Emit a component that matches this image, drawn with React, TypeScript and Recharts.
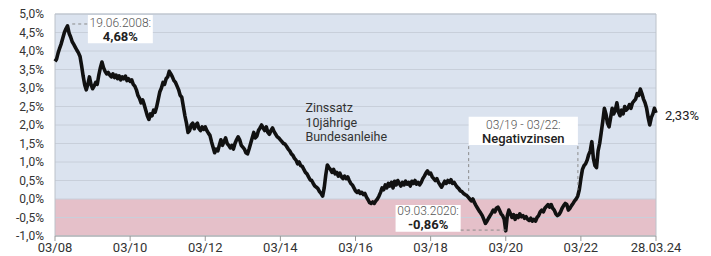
import React from 'react';
import {
	LineChart,
	Line,
	XAxis,
	YAxis,
	CartesianGrid,
	ReferenceArea,
	ReferenceLine,
	ReferenceDot,
} from 'recharts';

const FONT = 'Roboto, "Liberation Sans", sans-serif';

// 10y Bund yield in %, two readings per month, from 03/2008 to 28.03.2024
const y2008 = [3.72, 3.78, 3.95, 4.08, 4.2, 4.35, 4.5, 4.6, 4.68, 4.48, 4.38, 4.25, 4.18, 4.1, 4.02, 3.95, 3.85, 3.6, 3.32, 3.08];
const y2009 = [2.95, 3.1, 3.3, 3.1, 2.98, 3.05, 3.15, 3.1, 3.35, 3.55, 3.7, 3.55, 3.45, 3.38, 3.42, 3.35, 3.3, 3.38, 3.28, 3.35, 3.25, 3.33, 3.22, 3.3];
const y2010 = [3.25, 3.32, 3.2, 3.25, 3.18, 3.22, 3.1, 3.05, 2.95, 2.8, 2.72, 2.6, 2.68, 2.55, 2.4, 2.25, 2.15, 2.3, 2.25, 2.4, 2.35, 2.5, 2.7, 2.9];
const y2011 = [3.0, 3.15, 3.1, 3.25, 3.3, 3.45, 3.38, 3.3, 3.2, 3.15, 3.05, 2.95, 2.8, 2.75, 2.5, 2.25, 2.05, 1.8, 1.85, 2.0, 2.05, 1.9, 2.0, 2.05];
const y2012 = [1.9, 1.85, 1.95, 1.88, 1.95, 1.85, 1.78, 1.72, 1.55, 1.4, 1.25, 1.35, 1.3, 1.45, 1.6, 1.45, 1.55, 1.65, 1.5, 1.45, 1.38, 1.45, 1.35, 1.5];
const y2013 = [1.6, 1.68, 1.6, 1.45, 1.4, 1.35, 1.25, 1.22, 1.35, 1.5, 1.65, 1.8, 1.65, 1.7, 1.85, 1.92, 2.0, 1.92, 1.85, 1.95, 1.8, 1.75, 1.85, 1.92];
const y2014 = [1.82, 1.75, 1.68, 1.65, 1.6, 1.55, 1.5, 1.48, 1.42, 1.35, 1.3, 1.22, 1.18, 1.1, 1.05, 0.95, 1.0, 0.9, 0.88, 0.8, 0.72, 0.68, 0.6, 0.52];
const y2015 = [0.5, 0.42, 0.35, 0.32, 0.28, 0.2, 0.15, 0.08, 0.3, 0.65, 0.92, 0.85, 0.8, 0.72, 0.8, 0.68, 0.72, 0.62, 0.7, 0.6, 0.55, 0.62, 0.55, 0.6];
const y2016 = [0.5, 0.42, 0.38, 0.3, 0.22, 0.18, 0.22, 0.15, 0.18, 0.12, 0.15, 0.05, -0.02, -0.1, -0.12, -0.08, -0.12, -0.05, 0.0, 0.08, 0.18, 0.3, 0.25, 0.38];
const y2017 = [0.3, 0.42, 0.35, 0.45, 0.3, 0.48, 0.38, 0.5, 0.42, 0.35, 0.45, 0.38, 0.48, 0.4, 0.45, 0.35, 0.48, 0.42, 0.5, 0.4, 0.45, 0.38, 0.45, 0.55];
const y2018 = [0.62, 0.7, 0.76, 0.68, 0.7, 0.6, 0.55, 0.5, 0.55, 0.45, 0.38, 0.32, 0.4, 0.48, 0.42, 0.5, 0.45, 0.52, 0.42, 0.45, 0.38, 0.32, 0.28, 0.22];
const y2019 = [0.2, 0.15, 0.12, 0.1, 0.05, 0.0, -0.05, 0.0, -0.1, -0.18, -0.25, -0.32, -0.38, -0.45, -0.55, -0.66, -0.6, -0.52, -0.45, -0.38, -0.3, -0.35, -0.25, -0.22];
const y2020 = [-0.3, -0.4, -0.45, -0.55, -0.86, -0.45, -0.3, -0.4, -0.5, -0.42, -0.55, -0.45, -0.5, -0.4, -0.48, -0.45, -0.52, -0.48, -0.55, -0.58, -0.52, -0.6, -0.55, -0.6];
const y2021 = [-0.5, -0.45, -0.35, -0.3, -0.35, -0.25, -0.2, -0.15, -0.22, -0.15, -0.25, -0.3, -0.4, -0.45, -0.42, -0.35, -0.25, -0.18, -0.12, -0.15, -0.3, -0.25, -0.18, -0.12];
const y2022 = [-0.05, 0.0, 0.08, 0.25, 0.55, 0.8, 0.9, 0.95, 1.05, 1.2, 1.3, 1.55, 1.1, 0.9, 0.85, 1.3, 1.5, 1.8, 2.1, 2.45, 2.3, 2.05, 1.95, 2.2];
const y2023 = [2.45, 2.3, 2.4, 2.6, 2.35, 2.25, 2.4, 2.3, 2.5, 2.4, 2.45, 2.55, 2.45, 2.6, 2.65, 2.7, 2.85, 2.8, 2.97, 2.85, 2.7, 2.6, 2.45, 2.2];
const y2024 = [2.0, 2.2, 2.3, 2.45, 2.33];

const xTicks = [0, 48, 96, 144, 192, 240, 288, 336, 384];
const xTickLabels = ['03/08', '03/10', '03/12', '03/14', '03/16', '03/18', '03/20', '03/22', '28.03.24'];
const yTicks = [-1, -0.5, 0, 0.5, 1, 1.5, 2, 2.5, 3, 3.5, 4, 4.5, 5];

const rates = [
	...y2008, ...y2009, ...y2010, ...y2011, ...y2012, ...y2013, ...y2014, ...y2015,
	...y2016, ...y2017, ...y2018, ...y2019, ...y2020, ...y2021, ...y2022, ...y2023, ...y2024,
];
const data = rates.map((rate, i) => ({ t: i, rate }));

const BLUE = '#dbe3ef';
const PINK = '#e5c0c9';
// one stripe per 0,5%-band, top to bottom: positive rates blue, negative pink
const bandFills = yTicks.slice(1).map((v, i) => (yTicks[yTicks.length - 1 - i] > 0 ? BLUE : PINK));

const pct = (v: number, digits = 1) => v.toFixed(digits).replace('.', ',') + '%';

interface NoteLine {
	text: string;
	dy: number;
	size?: number;
	weight?: number;
	fill?: string;
}

// draws text lines inside a reference box (centred) or next to a dot (left aligned)
function Note({ viewBox, lines, align = 'middle', dx = 0 }: { viewBox?: any; lines: NoteLine[]; align?: string; dx?: number }) {
	if (!viewBox) return null;
	const x = (align === 'middle' ? viewBox.x + viewBox.width / 2 : viewBox.x) + dx;
	return (
		<g>
			{lines.map((l, i) => (
				<text
					key={i}
					x={x}
					y={viewBox.y + l.dy}
					textAnchor={align}
					dominantBaseline="central"
					fontFamily={FONT}
					fontSize={l.size ?? 12}
					fontWeight={l.weight ?? 400}
					fill={l.fill ?? '#444'}
				>
					{l.text}
				</text>
			))}
		</g>
	);
}

const dash = { stroke: '#8a8a8a', strokeDasharray: '3 3', strokeWidth: 1 };

export default function App() {
	return (
		<div style={{ position: 'absolute', left: 0, top: 0, width: 711, height: 256, background: '#fff' }}>
			<LineChart width={711} height={256} data={data} margin={{ top: 14, right: 55, bottom: 0, left: 0 }}>
				<CartesianGrid vertical={false} stroke="#c8cfda" horizontalFill={bandFills} fillOpacity={1} />
				<ReferenceArea x1={0} x2={384} y1={-1} y2={5} fill="none" stroke="#bcc2ca" />
				<XAxis
					dataKey="t"
					type="number"
					domain={[0, 384]}
					ticks={xTicks}
					interval={0}
					tickFormatter={(v: number) => xTickLabels[xTicks.indexOf(v)]}
					tick={{ fontSize: 13, fill: '#333', fontFamily: FONT }}
					tickSize={5}
					tickLine={{ stroke: '#999' }}
					axisLine={{ stroke: '#b0b0b0' }}
					height={20}
				/>
				<YAxis
					type="number"
					domain={[-1, 5]}
					ticks={yTicks}
					interval={0}
					tickFormatter={(v: number) => pct(v)}
					tick={{ fontSize: 12, fill: '#333', fontFamily: FONT }}
					axisLine={false}
					tickLine={false}
					tickMargin={5}
					width={55}
				/>
				<Line
					type="linear"
					dataKey="rate"
					stroke="#111"
					strokeWidth={3.6}
					strokeLinejoin="round"
					dot={false}
					isAnimationActive={false}
				/>

				{/* 19.06.2008 peak */}
				<ReferenceLine segment={[{ x: 11, y: 4.73 }, { x: 21, y: 4.73 }]} {...dash} />
				<ReferenceArea
					x1={21}
					x2={62.5}
					y1={4.21}
					y2={4.97}
					fill="#fff"
					fillOpacity={1}
					stroke="none"
					label={
						<Note
							lines={[
								{ text: '19.06.2008:', dy: 7.5, size: 12, weight: 300, fill: '#555' },
								{ text: pct(4.68, 2), dy: 21.5, size: 13, weight: 700, fill: '#222' },
							]}
						/>
					}
				/>

				{/* Negativzinsen period */}
				<ReferenceLine segment={[{ x: 264.3, y: 1.43 }, { x: 264.3, y: 0.14 }]} {...dash} />
				<ReferenceLine segment={[{ x: 334.1, y: 1.43 }, { x: 334.1, y: 0.24 }]} {...dash} />
				<ReferenceArea
					x1={264.3}
					x2={334.1}
					y1={1.46}
					y2={2.22}
					fill="#fff"
					fillOpacity={1}
					stroke="none"
					label={
						<Note
							lines={[
								{ text: '03/19 - 03/22:', dy: 8, size: 12, weight: 300, fill: '#555' },
								{ text: 'Negativzinsen', dy: 22, size: 13, weight: 500, fill: '#222' },
							]}
						/>
					}
				/>

				{/* 09.03.2020 low */}
				<ReferenceLine segment={[{ x: 259.2, y: -0.84 }, { x: 288, y: -0.84 }]} {...dash} />
				<ReferenceArea
					x1={217.6}
					x2={259.2}
					y1={-0.884}
					y2={-0.162}
					fill="#fff"
					fillOpacity={1}
					stroke="none"
					label={
						<Note
							lines={[
								{ text: '09.03.2020:', dy: 6, size: 12, weight: 300, fill: '#555' },
								{ text: pct(-0.86, 2), dy: 20, size: 13, weight: 700, fill: '#222' },
							]}
						/>
					}
				/>

				{/* series caption */}
				<ReferenceDot
					x={160}
					y={2.46}
					r={0}
					fill="none"
					stroke="none"
					label={
						<Note
							align="start"
							lines={[
								{ text: 'Zinssatz', dy: 0, size: 12.5, fill: '#333' },
								{ text: '10jährige', dy: 14.5, size: 12.5, fill: '#333' },
								{ text: 'Bundesanleihe', dy: 29, size: 12.5, fill: '#333' },
							]}
						/>
					}
				/>

				{/* last value */}
				<ReferenceDot
					x={384}
					y={2.33}
					r={0}
					fill="none"
					stroke="none"
					ifOverflow="visible"
					label={
						<Note
							align="start"
							dx={9}
							lines={[{ text: pct(2.33, 2), dy: 3, size: 13, fill: '#222' }]}
						/>
					}
				/>
			</LineChart>
		</div>
	);
}
